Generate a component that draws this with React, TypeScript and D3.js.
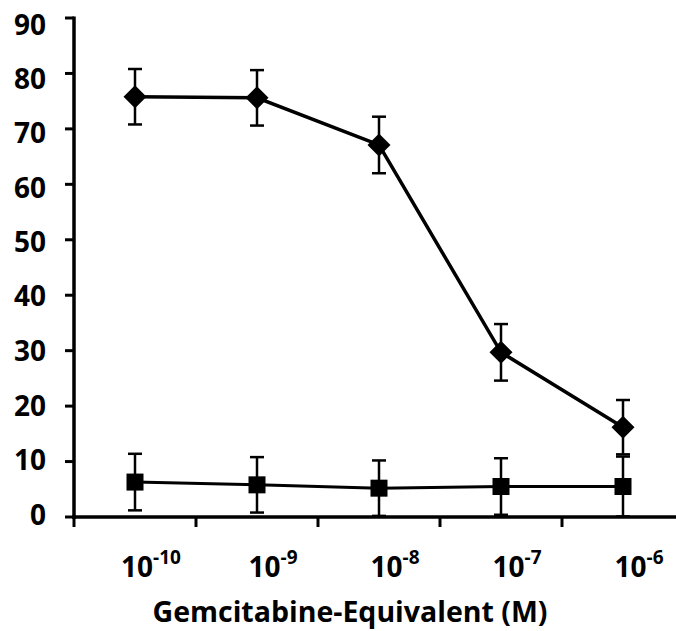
import React from "react";
import * as d3 from "d3";

const doses = ["-10", "-9", "-8", "-7", "-6"];
const diamondVals = [75.8, 75.6, 67.1, 29.7, 16.2];
const diamondErr = [5.0, 5.0, 5.1, 5.1, 4.9];
const squareVals = [6.3, 5.8, 5.2, 5.5, 5.5];
const squareErr = [5.1, 5.0, 5.0, 5.1, 5.4];
const yTicks = [0, 10, 20, 30, 40, 50, 60, 70, 80, 90];

const W = 676;
const H = 631;
const font = "'Open Sans', 'DejaVu Sans', sans-serif";

const App = () => {
  const x = d3.scaleBand<string>().domain(doses).range([74, 684]);
  const y = d3.scaleLinear().domain([0, 90]).range([517, 18]);
  // tick labels sit a little off their ticks near the top in the original
  const yLabel = d3.scaleLinear().domain([0, 40, 90]).range([515, 296, 25]);
  const cx = (d: string) => (x(d) as number) + x.bandwidth() / 2;

  const line = d3
    .line<number>()
    .x((_, i) => cx(doses[i]))
    .y((v) => y(v));

  const errBars = (vals: number[], errs: number[], key: string) =>
    vals.map((v, i) => {
      const px = cx(doses[i]);
      const top = y(v + errs[i]);
      const bot = y(Math.max(0, v - errs[i]));
      return (
        <g key={key + i} stroke="#000" strokeWidth={2.5}>
          <line x1={px} x2={px} y1={top} y2={bot} />
          <line x1={px - 7} x2={px + 7} y1={top} y2={top} />
          <line x1={px - 7} x2={px + 7} y1={bot} y2={bot} />
        </g>
      );
    });

  const bounds = doses.map((d) => x(d) as number);

  return (
    <svg width={W} height={H} style={{ position: "absolute", left: 0, top: 0 }}>
      <rect width={W} height={H} fill="#fff" />
      {/* y axis */}
      <line x1={74} x2={74} y1={y(90) - 1.5} y2={y(0) + 2} stroke="#000" strokeWidth={3.5} />
      {yTicks.map((t) => (
        <g key={t}>
          <line x1={65} x2={74} y1={y(t)} y2={y(t)} stroke="#000" strokeWidth={3} />
          <text
            x={46}
            y={yLabel(t)}
            dy="0.36em"
            textAnchor="end"
            fontFamily={font}
            fontWeight="bold"
            fontSize={28}
          >
            {t}
          </text>
        </g>
      ))}
      {/* x axis */}
      <line x1={72} x2={W} y1={y(0)} y2={y(0)} stroke="#000" strokeWidth={3.5} />
      {bounds.map((b, i) => (
        <line key={i} x1={b} x2={b} y1={y(0)} y2={y(0) + 10} stroke="#000" strokeWidth={3} />
      ))}
      {doses.map((d) => (
        <text
          key={d}
          x={cx(d) + 16}
          y={577}
          textAnchor="middle"
          fontFamily={font}
          fontWeight="bold"
          fontSize={28}
        >
          10
          <tspan dy={-13} fontSize={19}>
            {d}
          </tspan>
        </text>
      ))}
      <text
        x={350}
        y={622}
        textAnchor="middle"
        fontFamily={font}
        fontWeight="bold"
        fontSize={28.5}
      >
        Gemcitabine-Equivalent (M)
      </text>

      {errBars(diamondVals, diamondErr, "d")}
      {errBars(squareVals, squareErr, "s")}

      <path d={line(diamondVals) as string} fill="none" stroke="#000" strokeWidth={3.5} />
      <path d={line(squareVals) as string} fill="none" stroke="#000" strokeWidth={3} />

      {diamondVals.map((v, i) => {
        const px = cx(doses[i]);
        const py = y(v);
        const r = 11.5;
        return (
          <path
            key={"dm" + i}
            d={`M${px},${py - r}L${px + r},${py}L${px},${py + r}L${px - r},${py}Z`}
            fill="#000"
          />
        );
      })}
      {squareVals.map((v, i) => (
        <rect
          key={"sq" + i}
          x={cx(doses[i]) - 8.5}
          y={y(v) - 8.5}
          width={17}
          height={17}
          fill="#000"
        />
      ))}
    </svg>
  );
};

export default App;
